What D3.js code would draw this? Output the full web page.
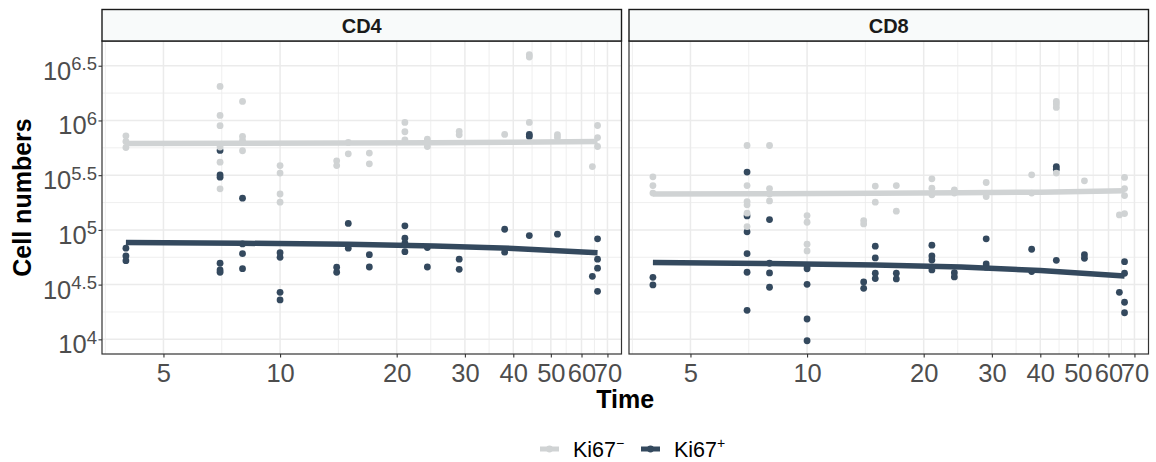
<!DOCTYPE html>
<html>

<head>
  <meta charset="utf-8">
  <title>Cell numbers</title>
  <style>
    body { margin: 0; background: #fff; }
    text { font-family: 'Liberation Sans', Arial, sans-serif; }
  </style>
</head>

<body>
  <div id='chart'></div>

  <script src="https://d3js.org/d3.v7.min.js"></script>
  <script>
    // sampling days
    let times = [4, 7, 8, 10, 14, 15, 17, 21, 24, 29, 38, 44, 52, 64, 66];

    // log10 cell numbers, one list per day (same order as times)
    let cd4Neg = [
      [5.860, 5.808, 5.753], [6.311, 6.046, 5.952, 5.757, 5.619, 5.375], [6.174, 5.854, 5.817, 5.723],
      [5.588, 5.519, 5.329, 5.253], [5.631, 5.588], [5.799, 5.695], [5.702, 5.604], [5.982, 5.897, 5.823],
      [5.830, 5.799, 5.762], [5.899, 5.869], [5.872], [6.601, 6.580, 5.982], [5.870, 5.845], [5.579],
      [5.954, 5.844, 5.762]
    ];
    let cd4Pos = [
      [4.833, 4.762, 4.719], [5.726, 5.503, 5.482, 4.695, 4.634, 4.613], [5.290, 4.872, 4.783, 4.646],
      [4.792, 4.750, 4.430, 4.360], [4.659, 4.613], [5.059, 4.833], [4.774, 4.661], [5.037, 4.924, 4.878, 4.801],
      [4.839, 4.661], [4.732, 4.640], [5.006, 4.796], [5.872, 5.854, 4.948], [4.961], [4.576],
      [4.918, 4.732, 4.650, 4.439]
    ];
    let cd8Neg = [
      [5.485, 5.405, 5.336], [5.771, 5.405, 5.259, 5.229, 5.153, 5.030], [5.771, 5.378, 5.329, 5.265],
      [5.131, 5.070, 4.869, 4.808], [5.085, 5.055], [5.400, 5.253], [5.405, 5.171], [5.467, 5.381, 5.320],
      [5.366, 5.336], [5.433, 5.305], [5.503, 5.336], [6.174, 6.150, 6.119, 5.519], [5.448], [5.137],
      [5.479, 5.378, 5.314, 5.149]
    ];
    let cd8Pos = [
      [4.567, 4.497], [5.528, 5.128, 4.982, 4.783, 4.613, 4.265], [5.094, 4.695, 4.607, 4.476],
      [4.670, 4.645, 4.503, 4.186, 3.987], [4.524, 4.466], [4.851, 4.744, 4.604, 4.555], [4.604, 4.552],
      [4.860, 4.762, 4.725, 4.634], [4.609, 4.570], [4.918, 4.689, 4.659], [4.823, 4.619],
      [5.579, 5.555, 4.722], [4.774, 4.741], [4.430], [4.710, 4.604, 4.339, 4.243]
    ];

    // fitted trend
    let fitTimes = [4, 8, 15, 25, 40, 66];
    let cd4NegFit = [5.790, 5.791, 5.793, 5.796, 5.800, 5.808];
    let cd4PosFit = [4.884, 4.878, 4.868, 4.853, 4.831, 4.792];
    let cd8NegFit = [5.329, 5.331, 5.334, 5.339, 5.345, 5.357];
    let cd8PosFit = [4.701, 4.693, 4.679, 4.660, 4.630, 4.579];

    let panels = ['CD4', 'CD8'];
    let xTicks = [5, 10, 20, 30, 40, 50, 60, 70];
    let xMinor = [3.54, 7.07, 14.14, 24.49, 34.64, 44.72, 54.77, 64.81];
    let yTicks = [4, 4.5, 5, 5.5, 6, 6.5];
    let yMinor = [4.25, 4.75, 5.25, 5.75, 6.25];
    let groups = ['Ki67\u2212', 'Ki67+'];

    let colNeg = '#D0D3D4';
    let colPos = '#34495E';

    let svgWidth = 1156;
    let svgHeight = 462;
    let panelW = 519.5;
    let panelX = [102, 629];
    let plotTop = 41;
    let plotBottom = 354;
    let stripTop = 9.5;

    function translate(x, y) {
      return 'translate(' + x + ',' + y + ')';
    }

    let svg = d3.select('#chart').append('svg')
      .attr('width', svgWidth)
      .attr('height', svgHeight);

    let ph = plotBottom - plotTop;
    let x = d3.scaleLog().domain([3.47, 76.1]).range([0, panelW]);
    let y = d3.scaleLog().domain([Math.pow(10, 3.866), Math.pow(10, 6.726)]).range([ph, 0]);

    function pts(vals) {
      let out = [];
      vals.forEach((list, i) => list.forEach(v => out.push([times[i], v])));
      return out;
    }
    function fit(vals) {
      return vals.map((v, i) => [fitTimes[i], v]);
    }

    let panelData = [
      { neg: pts(cd4Neg), pos: pts(cd4Pos), negFit: fit(cd4NegFit), posFit: fit(cd4PosFit) },
      { neg: pts(cd8Neg), pos: pts(cd8Pos), negFit: fit(cd8NegFit), posFit: fit(cd8PosFit) }
    ];

    let line = d3.line()
      .x(d => x(d[0]))
      .y(d => y(Math.pow(10, d[1])));

    panels.forEach(function (name, p) {
      let g = svg.append('g').attr('transform', translate(panelX[p], plotTop));

      // grid
      g.selectAll('.yminor').data(yMinor).enter().append('line')
        .attr('x1', 0).attr('x2', panelW)
        .attr('y1', d => y(Math.pow(10, d))).attr('y2', d => y(Math.pow(10, d)))
        .style('stroke', '#EBEBEB').style('stroke-width', 0.8);
      g.selectAll('.xminor').data(xMinor).enter().append('line')
        .attr('y1', 0).attr('y2', ph)
        .attr('x1', d => x(d)).attr('x2', d => x(d))
        .style('stroke', '#EBEBEB').style('stroke-width', 0.8);
      g.selectAll('.ymajor').data(yTicks).enter().append('line')
        .attr('x1', 0).attr('x2', panelW)
        .attr('y1', d => y(Math.pow(10, d))).attr('y2', d => y(Math.pow(10, d)))
        .style('stroke', '#EBEBEB').style('stroke-width', 1.5);
      g.selectAll('.xmajor').data(xTicks).enter().append('line')
        .attr('y1', 0).attr('y2', ph)
        .attr('x1', d => x(d)).attr('x2', d => x(d))
        .style('stroke', '#EBEBEB').style('stroke-width', 1.5);

      let dat = panelData[p];

      // points
      g.selectAll('.pos').data(dat.pos).enter().append('circle')
        .attr('cx', d => x(d[0])).attr('cy', d => y(Math.pow(10, d[1])))
        .attr('r', 3.4).style('fill', colPos);
      g.selectAll('.neg').data(dat.neg).enter().append('circle')
        .attr('cx', d => x(d[0])).attr('cy', d => y(Math.pow(10, d[1])))
        .attr('r', 3.4).style('fill', colNeg);

      // trend lines
      g.append('path').attr('d', line(dat.negFit))
        .style('fill', 'none').style('stroke', colNeg).style('stroke-width', 5.5);
      g.append('path').attr('d', line(dat.posFit))
        .style('fill', 'none').style('stroke', colPos).style('stroke-width', 5.5);

      // border
      g.append('rect').attr('width', panelW).attr('height', ph)
        .style('fill', 'none').style('stroke', '#333').style('stroke-width', 1.2);

      // strip
      g.append('rect').attr('y', stripTop - plotTop).attr('width', panelW).attr('height', plotTop - stripTop)
        .style('fill', '#F8FAFA').style('stroke', '#1A1A1A').style('stroke-width', 1.4);
      g.append('text').text(name)
        .attr('x', panelW / 2).attr('y', -8)
        .attr('text-anchor', 'middle')
        .style('font-size', '20px').style('font-weight', 'bold').style('fill', '#1A1A1A');

      // x axis
      let xAxis = g.append('g').attr('transform', translate(0, ph))
        .call(d3.axisBottom(x).tickValues(xTicks).tickFormat(d3.format('d')).tickSize(3.5).tickPadding(6.5));
      xAxis.select('.domain').remove();
      xAxis.selectAll('line').style('stroke', '#333').style('stroke-width', 1.1);
      xAxis.selectAll('text').style('font-size', '25.5px').style('fill', '#4D4D4D');
    });

    // y axis on the left panel only
    let yAxis = svg.append('g').attr('transform', translate(panelX[0], plotTop))
      .call(d3.axisLeft(y).tickValues(yTicks.map(d => Math.pow(10, d))).tickSize(3.5).tickFormat(''));
    yAxis.select('.domain').remove();
    yAxis.selectAll('line').style('stroke', '#333').style('stroke-width', 1.1);
    yAxis.selectAll('.tick').each(function (d, i) {
      let t = d3.select(this).select('text')
        .attr('x', -5).attr('y', 13.5).attr('dy', null)
        .attr('text-anchor', 'end').style('fill', '#4D4D4D');
      t.append('tspan').text('10').style('font-size', '25.5px');
      t.append('tspan').text(yTicks[i]).attr('dy', '-9.5').style('font-size', '18.5px');
    });

    // axis titles
    svg.append('text').text('Time')
      .attr('x', (panelX[0] + panelX[1] + panelW) / 2).attr('y', 408)
      .attr('text-anchor', 'middle')
      .style('font-size', '25px').style('font-weight', 'bold').style('fill', '#000');
    svg.append('text').text('Cell numbers')
      .attr('transform', translate(31, (plotTop + plotBottom) / 2) + ' rotate(-90)')
      .attr('text-anchor', 'middle')
      .style('font-size', '25px').style('font-weight', 'bold').style('fill', '#000');

    // legend
    let legend = svg.append('g').attr('transform', translate(540, 449));
    let keyX = [0, 101];
    [colNeg, colPos].forEach(function (c, i) {
      let k = legend.append('g').attr('transform', translate(keyX[i], 0));
      k.append('line').attr('x1', 0).attr('x2', 19).attr('y1', 0).attr('y2', 0)
        .style('stroke', c).style('stroke-width', 5);
      k.append('circle').attr('cx', 9.5).attr('cy', 0).attr('r', 3.4).style('fill', c);
      let t = k.append('text').attr('x', 33).attr('y', 7.5).style('fill', '#000');
      t.append('tspan').text(groups[i].slice(0, 4)).style('font-size', '21.5px');
      t.append('tspan').text(groups[i].slice(4)).attr('dy', -9).style('font-size', '14px');
    });
  </script>
</body>

</html>
